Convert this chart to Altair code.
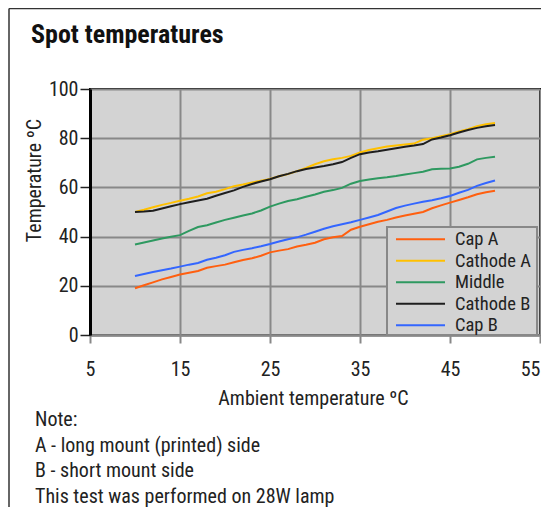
import altair as alt
import pandas as pd

FONT = "Liberation Sans Narrow, Arial Narrow, Roboto Condensed, DejaVu Sans Condensed, sans-serif"

chart_title = "Spot temperatures"
x_title = "Ambient temperature ºC"
y_title = "Temperature ºC"
notes = [
    "Note:",
    "A - long mount (printed) side",
    "B - short mount side",
    "This test was performed on 28W lamp",
]

ambient = list(range(10, 51))
series = ["Cap A", "Cathode A", "Middle", "Cathode B", "Cap B"]
colors = ["#ff5f0f", "#ffc000", "#2e9960", "#1e1e1e", "#3366ff"]

cap_a = [19.0, 20.2, 21.4, 22.6, 23.6, 24.6, 25.3, 26.0, 27.3, 28.0,
         28.6, 29.6, 30.5, 31.2, 32.2, 33.6, 34.3, 34.9, 36.0, 36.7,
         37.5, 38.9, 39.7, 40.2, 42.8, 44.0, 45.0, 46.0, 46.8, 47.8,
         48.6, 49.3, 50.0, 51.5, 52.7, 53.8, 54.9, 56.0, 57.2, 58.0, 58.6]
cathode_a = [50.0, 50.9, 51.9, 52.9, 53.7, 54.6, 55.4, 56.3, 57.6, 58.2,
             59.3, 60.5, 61.2, 62.0, 62.7, 63.4, 64.5, 65.4, 66.6, 67.9,
             69.4, 70.6, 71.4, 72.0, 72.8, 74.2, 75.2, 75.9, 76.6, 77.0,
             77.4, 77.8, 79.4, 80.0, 80.8, 81.6, 82.7, 83.7, 84.9, 85.7, 86.2]
middle = [36.8, 37.6, 38.4, 39.2, 39.9, 40.6, 42.3, 43.9, 44.6, 45.7,
          46.8, 47.7, 48.6, 49.4, 50.6, 52.2, 53.4, 54.5, 55.2, 56.2,
          57.1, 58.2, 58.9, 59.8, 61.5, 62.6, 63.2, 63.7, 64.1, 64.6,
          65.2, 65.8, 66.4, 67.4, 67.6, 67.7, 68.4, 69.6, 71.4, 72.0, 72.5]
cathode_b = [50.0, 50.2, 50.5, 51.4, 52.3, 53.2, 54.0, 54.7, 55.4, 56.6,
             57.7, 58.8, 60.2, 61.4, 62.4, 63.3, 64.5, 65.5, 66.6, 67.5,
             68.1, 68.7, 69.4, 70.3, 72.0, 73.5, 74.2, 74.7, 75.3, 75.9,
             76.5, 77.0, 77.6, 79.5, 80.3, 81.2, 82.3, 83.3, 84.2, 84.9, 85.4]
cap_b = [24.0, 24.8, 25.6, 26.3, 27.0, 27.8, 28.6, 29.3, 30.6, 31.4,
         32.4, 33.8, 34.6, 35.3, 36.1, 37.0, 38.0, 38.9, 39.7, 40.8,
         42.0, 43.2, 44.2, 45.0, 45.8, 46.8, 47.8, 48.8, 50.2, 51.6,
         52.6, 53.4, 54.2, 54.8, 55.6, 56.5, 57.8, 59.0, 60.6, 61.8, 62.8]

x_ticks = [5, 15, 25, 35, 45, 55]
y_ticks = [0, 20, 40, 60, 80, 100]

rows = []
for name, vals in zip(series, [cap_a, cathode_a, middle, cathode_b, cap_b]):
    for xv, yv in zip(ambient, vals):
        rows.append({"ambient": xv, "temp": yv, "series": name})
df = pd.DataFrame(rows)

color_scale = alt.Scale(domain=series, range=colors)

lines = alt.Chart(df).mark_line(strokeWidth=2).encode(
    x=alt.X("ambient:Q",
            scale=alt.Scale(domain=[5, 55], nice=False, zero=False),
            axis=alt.Axis(values=x_ticks, title=x_title, grid=True,
                          gridColor="#888888", gridWidth=2,
                          domainColor="#888888", domainWidth=2.5,
                          tickColor="#888888", tickWidth=2, tickSize=8,
                          labelFont=FONT, labelFontSize=20, labelColor="#222222",
                          labelPadding=16, labelFlush=False,
                          labelAlign={"condition": {"test": "datum.value >= 55", "value": "right"},
                                      "value": "center"},
                          titleFont=FONT, titleFontSize=20, titleFontWeight="normal",
                          titleColor="#222222", titleX=223, titleY=69,
                          titleAlign="center", titleBaseline="alphabetic")),
    y=alt.Y("temp:Q",
            scale=alt.Scale(domain=[0, 100], nice=False),
            axis=alt.Axis(values=y_ticks, title=y_title, grid=True,
                          gridColor="#888888", gridWidth=2,
                          domainColor="#000000", domainWidth=3,
                          tickColor="#222222", tickWidth=1.5, tickSize=10,
                          labelFont=FONT, labelFontSize=20, labelColor="#222222",
                          labelPadding=2, labelFlush=False,
                          titleFont=FONT, titleFontSize=20, titleFontWeight="normal",
                          titleColor="#222222", titleX=-56, titleY=91, titleAngle=270,
                          titleAlign="center", titleBaseline="middle")),
    color=alt.Color("series:N", scale=color_scale, legend=None),
)

layers = [lines]

# legend box
layers.append(
    alt.Chart(pd.DataFrame({"k": [0]})).mark_rect(
        fill="#d3d3d3", stroke="#888888", strokeWidth=2
    ).encode(x=alt.value(297), x2=alt.value(447), y=alt.value(138), y2=alt.value(246))
)
for i, (name, col) in enumerate(zip(series, colors)):
    yy = 150.3 + i * 21.5
    d = pd.DataFrame({"label": [name]})
    layers.append(
        alt.Chart(d).mark_rule(strokeWidth=2, color=col).encode(
            x=alt.value(306), x2=alt.value(355), y=alt.value(yy))
    )
    layers.append(
        alt.Chart(d).mark_text(align="left", baseline="middle", font=FONT,
                               fontSize=18.5, color="#222222").encode(
            x=alt.value(365), y=alt.value(yy), text="label:N")
    )

# title
layers.append(
    alt.Chart(pd.DataFrame({"label": [chart_title]})).mark_text(
        align="left", baseline="alphabetic", font=FONT, fontSize=26,
        fontWeight="bold", color="#111111"
    ).encode(x=alt.value(-59), y=alt.value(-46), text="label:N")
)

# notes
for i, note in enumerate(notes):
    layers.append(
        alt.Chart(pd.DataFrame({"label": [note]})).mark_text(
            align="left", baseline="alphabetic", font=FONT, fontSize=20,
            color="#222222"
        ).encode(x=alt.value(-55), y=alt.value(337 + i * 25.7), text="label:N")
    )

# outer frame (left and top edges)
layers.append(
    alt.Chart(pd.DataFrame({"k": [0]})).mark_rule(color="#333333", strokeWidth=1.5).encode(
        x=alt.value(-81), y=alt.value(-80.5), y2=alt.value(430))
)
layers.append(
    alt.Chart(pd.DataFrame({"k": [0]})).mark_rule(color="#333333", strokeWidth=1.5).encode(
        x=alt.value(-81), x2=alt.value(460), y=alt.value(-80.5))
)

chart = alt.layer(*layers).properties(
    width=450, height=246,
    padding={"left": 82, "top": 81, "right": 1, "bottom": 172},
    autosize=alt.AutoSizeParams(type="none"),
    background="white",
).configure_view(fill="#d3d3d3", stroke="#000000", strokeWidth=2)

chart.save("out.html", embed_options={"renderer": "svg", "actions": False})
